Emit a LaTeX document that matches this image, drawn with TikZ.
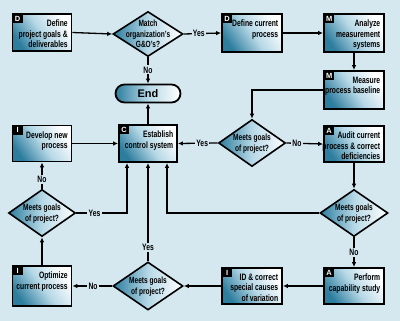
\documentclass[tikz,border=0pt]{standalone}
\usepackage{fontspec}
\setmainfont{Liberation Sans}[FakeStretch=0.73]
\newfontfamily\widefont{Liberation Sans}
\usetikzlibrary{shapes.geometric,arrows.meta}
\definecolor{bg}{RGB}{213,232,240}
\definecolor{tealA}{RGB}{45,125,158}
\definecolor{tealB}{RGB}{182,216,230}
\tikzset{
  box/.style={draw=black, line width=1.8pt, minimum width=59pt, inner sep=0pt,
    top color=white, bottom color=tealA, middle color=tealB, shading angle=-55},
  dia/.style={diamond, draw=black, line width=1.6pt, inner sep=0pt,
    left color=tealA, right color=white, middle color=tealB},
  endbox/.style={draw=black, line width=1.8pt, rounded corners=9pt, inner sep=0pt,
    left color=tealA, right color=white, middle color=tealB},
  tagbox/.style={fill=black, text=white, inner sep=0pt, minimum width=10pt, minimum height=9pt,
    font=\widefont\bfseries\fontsize{7.5}{7.5}\selectfont},
  boxtext/.style={align=right, inner sep=0pt, font=\bfseries\fontsize{9.3}{10.7}\selectfont},
  diatext/.style={align=center, inner sep=0pt, font=\bfseries\fontsize{9}{10.7}\selectfont},
  conn/.style={line width=1.3pt, -{Latex[length=5pt,width=4.5pt]}},
  lab/.style={fill=bg, inner sep=1.2pt, font=\bfseries\fontsize{9.3}{10}\selectfont},
}
\newcommand\mkbox[6]{% name, position, width, height, tag, text
  \node[box, minimum width=#3, minimum height=#4] (#1) at (#2) {};
  \node[tagbox, anchor=north west] (#1-t) at ([xshift=0.9pt,yshift=-0.9pt]#1.north west) {#5};
  \node[boxtext, anchor=north east] (#1-x) at ([xshift=-4.5pt,yshift=-6.5pt]#1.north east) {#6};
}
\begin{document}
\begin{tikzpicture}[x=1pt,y=-1pt]
\fill[bg] (0,0) rectangle (400,321);
\useasboundingbox (0,0) rectangle (400,321);

\mkbox{dgoals}{42,32.5}{59pt}{37pt}{D}{Define\\project goals \&\\deliverables}
\mkbox{dcur}{252,33}{60pt}{38pt}{D}{Define current\\process}
\mkbox{manal}{354,33}{60pt}{38pt}{M}{Analyze\\measurement\\systems}
\mkbox{mmeas}{354,90}{60pt}{38pt}{M}{Measure\\process baseline}
\mkbox{audit}{354,144}{60pt}{36pt}{A}{Audit current\\process \& correct\\deficiencies}
\mkbox{perform}{354,286}{60pt}{36pt}{A}{Perform\\capability study}
\mkbox{idcorr}{252,286}{60pt}{36pt}{I}{ID \& correct\\special causes\\of variation}
\mkbox{optim}{42,286}{59pt}{40pt}{I}{Optimize\\current process}
\mkbox{develop}{42,143.5}{59pt}{36pt}{I}{Develop new\\process}
\mkbox{control}{148,143.5}{58pt}{37pt}{C}{Establish\\control system}

\node[endbox, minimum width=65pt, minimum height=18pt] (end) at (148,93.5) {};
\node[font=\widefont\bfseries\fontsize{11}{11}\selectfont] (end-x) at (end.center) {End};

\node[dia, minimum width=70pt, minimum height=45pt] (match) at (148,34) {};
\node[diatext] (match-x) at (match.center) {Match\\organization's\\G\&O's?};
\node[dia, minimum width=67pt, minimum height=47pt] (meetsA) at (252,143) {};
\node[diatext] (meetsA-x) at ([yshift=-1pt]meetsA.center) {Meets goals\\of project?};
\node[dia, minimum width=68pt, minimum height=47pt] (meetsB) at (354,213) {};
\node[diatext] (meetsB-x) at ([yshift=-1pt]meetsB.center) {Meets goals\\of project?};
\node[dia, minimum width=70pt, minimum height=48pt] (meetsC) at (148,286) {};
\node[diatext] (meetsC-x) at ([yshift=-1pt]meetsC.center) {Meets goals\\of project?};
\node[dia, minimum width=67pt, minimum height=47pt] (meetsD) at (42,213) {};
\node[diatext] (meetsD-x) at ([yshift=-1pt]meetsD.center) {Meets goals\\of project?};

\draw[conn] (dgoals.east) -- (match.west);
\draw[conn] (match.east) -- node[lab, pos=0.4] (l1) {Yes} (dcur.west);
\draw[conn] (match.south) -- node[lab, pos=0.48] (l2) {No} (end.north);
\draw[conn] (dcur.east) -- (manal.west);
\draw[conn] (manal.south) -- (mmeas.north);
\draw[conn] (mmeas.west) -| (meetsA.north);
\draw[conn] (meetsA.west) -- node[lab, pos=0.39] (l3) {Yes} (control.east);
\draw[conn] (meetsA.east) -- node[lab, pos=0.29] (l4) {No} (audit.west);
\draw[conn] (audit.south) -- (meetsB.north);
\draw[conn] (meetsB.west) -| ([xshift=19pt]control.south);
\draw[conn] (meetsB.south) -- node[lab, pos=0.5] (l5) {No} (perform.north);
\draw[conn] (perform.west) -- (idcorr.east);
\draw[conn] (idcorr.west) -- (meetsC.east);
\draw[conn] (meetsC.north) -- node[lab, pos=0.14] (l6) {Yes} (control.south);
\draw[conn] (meetsC.west) -- node[lab, pos=0.48] (l7) {No} (optim.east);
\draw[conn] (optim.north) -- (meetsD.south);
\draw[conn] (meetsD.north) -- node[lab, pos=0.36] (l8) {No} (develop.south);
\draw[conn] (meetsD.east) -| node[lab, pos=0.18] (l9) {Yes} ([xshift=-21pt]control.south);
\draw[conn] (develop.east) -- (control.west);
\draw[conn] (control.north) -- (end.south);
\end{tikzpicture}
\end{document}
